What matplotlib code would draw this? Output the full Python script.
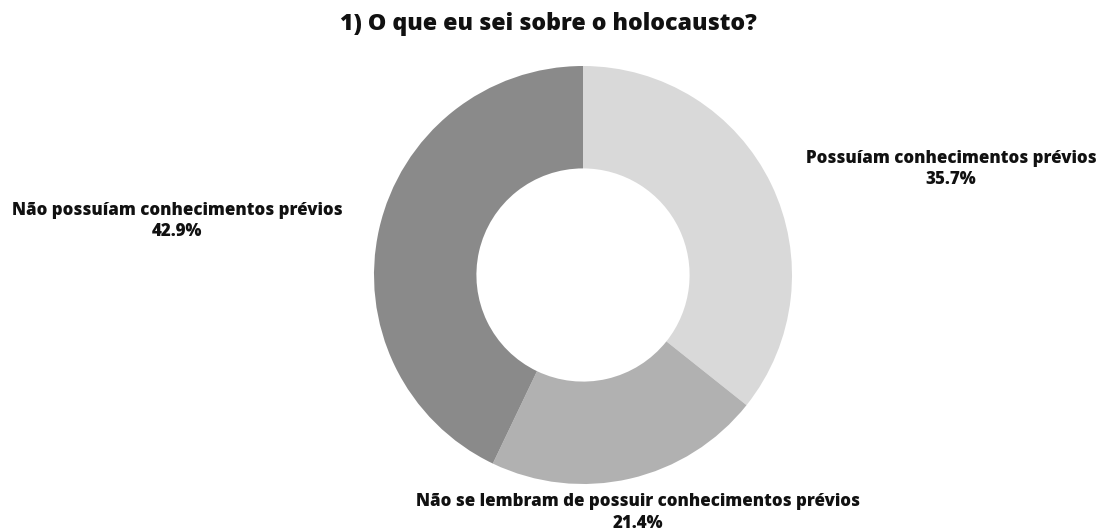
import matplotlib
matplotlib.use("Agg")
from matplotlib import pyplot as plt

categories = ["Possuíam conhecimentos prévios",
              "Não se lembram de possuir conhecimentos prévios",
              "Não possuíam conhecimentos prévios"]
values = [35.7, 21.4, 42.9]
colors = ["#d9d9d9", "#b1b1b1", "#8a8a8a"]
title = "1) O que eu sei sobre o holocausto?"

plt.rcParams['font.family'] = ['Open Sans', 'DejaVu Sans']

fig = plt.figure(figsize=(11.01, 5.30), dpi=100)
# donut centre ~ (583, 275) px, outer radius ~ 209 px
ax = fig.add_axes([374 / 1101, 46 / 530, 418 / 1101, 418 / 530])
wedges, _ = ax.pie(values, colors=colors, startangle=90, counterclock=False,
                   radius=1.0, wedgeprops=dict(width=0.49, linewidth=0))
ax.set_xlim(-1, 1)
ax.set_ylim(-1, 1)
ax.set_aspect('equal')
ax.axis('off')

# label positions outside the ring (data coords)
label_pos = [(1.761, 0.507), (0.263, -1.136), (-1.943, 0.258)]
for (x, y), name, v in zip(label_pos, categories, values):
    ax.text(x, y, f"{name}\n{v:.1f}%", ha='center', va='center',
            fontsize=12.2, fontweight='heavy', color='#111111',
            linespacing=1.37, clip_on=False)

fig.text(548 / 1101, 1 - 24 / 530, title, ha='center', va='center',
         fontsize=16.7, fontweight='heavy', color='#111111')

fig.savefig("out.png", dpi=100, facecolor='white')
